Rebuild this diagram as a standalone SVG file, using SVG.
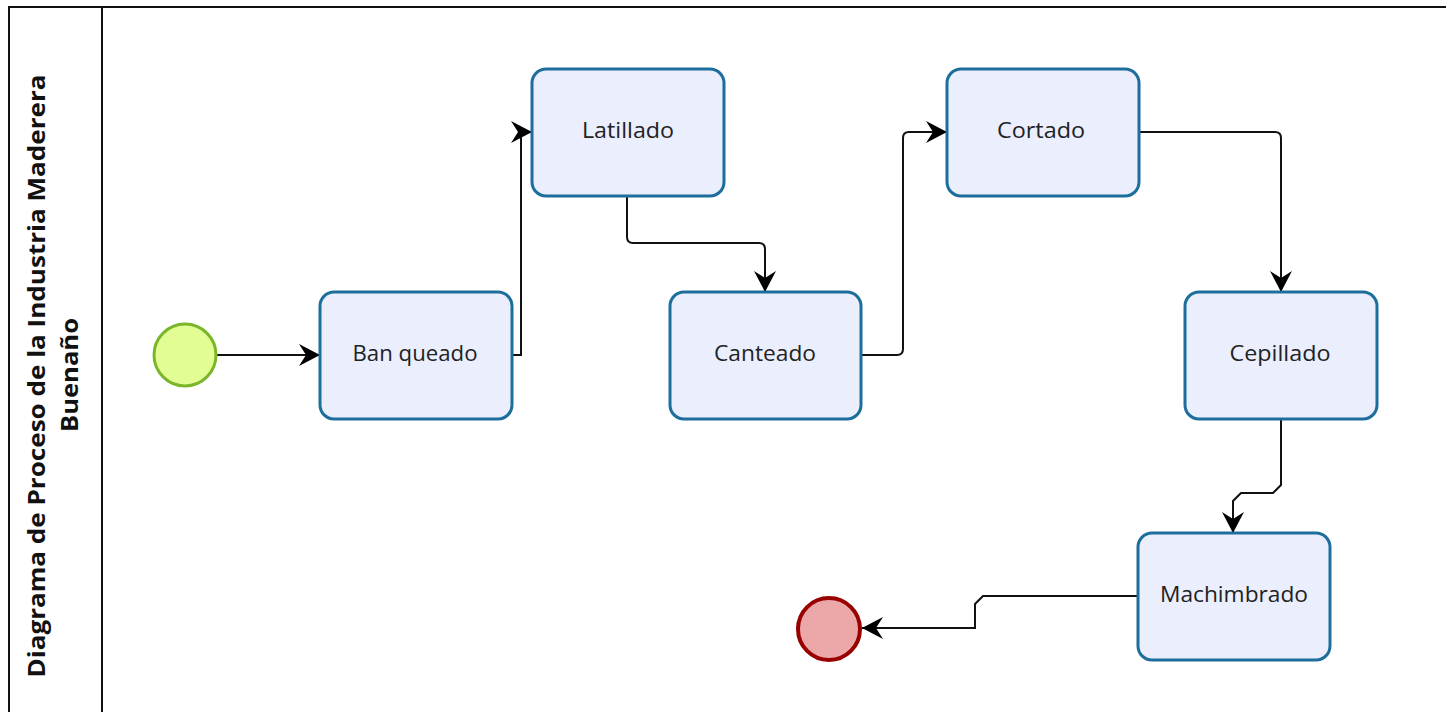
<svg xmlns="http://www.w3.org/2000/svg" width="1446" height="712" viewBox="0 0 1446 712">
<style>
.task{fill:#eaeefd;stroke:#1d6e9c;stroke-width:3}
.lbl{font-family:"Open Sans","Noto Sans",sans-serif;font-size:21px;fill:#222;text-anchor:middle;dominant-baseline:central}
.ttl{font-family:"Open Sans","Noto Sans",sans-serif;font-size:24px;font-weight:bold;fill:#111;text-anchor:middle;dominant-baseline:central}
.edge{fill:none;stroke:#111;stroke-width:2}
</style>
<defs>
<marker id="arr" markerUnits="userSpaceOnUse" markerWidth="24" markerHeight="22" refX="21" refY="11" orient="auto">
<path d="M0,0 L21,11 L0,22 L7,11 z" fill="#000"/>
</marker>
</defs>
<rect width="1446" height="712" fill="#fff"/>
<g id="pool">
<path d="M9,712 L9,7 L1446,7" fill="none" stroke="#111" stroke-width="2"/>
<line x1="102" y1="7" x2="102" y2="712" stroke="#111" stroke-width="2"/>
<text class="ttl" transform="translate(35,376) rotate(-90)" textLength="603" lengthAdjust="spacingAndGlyphs">Diagrama de Proceso de la Industria Maderera</text>
<text class="ttl" transform="translate(68,375) rotate(-90)" textLength="114" lengthAdjust="spacingAndGlyphs">Buenaño</text>
</g>
<g id="connectors">
<path class="edge" d="M217,355 L320,355" marker-end="url(#arr)"/>
<path class="edge" d="M512,355 L521,355 L521,132 L532,132" marker-end="url(#arr)"/>
<path class="edge" d="M627,196 L627,237 Q627,243 633,243 L759,243 Q765,243 765,249 L765,292" marker-end="url(#arr)"/>
<path class="edge" d="M861,355 L897,355 Q903,355 903,349 L903,138 Q903,132 909,132 L947,132" marker-end="url(#arr)"/>
<path class="edge" d="M1139,132 L1275,132 Q1281,132 1281,138 L1281,292" marker-end="url(#arr)"/>
<path class="edge" d="M1281,419 L1281,485 L1273,493 L1241,493 L1233,501 L1233,533" marker-end="url(#arr)"/>
<path class="edge" d="M1138,596 L983,596 L975,604 L975,628 L862,628" marker-end="url(#arr)"/>
</g>
<g id="start"><circle cx="185" cy="355" r="31" fill="#e3fd95" stroke="#7ab52a" stroke-width="3"/></g>
<g id="banqueado"><rect class="task" x="320" y="292" width="192" height="127" rx="14"/><text class="lbl" x="415" y="353" textLength="125" lengthAdjust="spacingAndGlyphs">Ban queado</text></g>
<g id="latillado"><rect class="task" x="532" y="69" width="192" height="127" rx="14"/><text class="lbl" x="628" y="130" textLength="92" lengthAdjust="spacingAndGlyphs">Latillado</text></g>
<g id="canteado"><rect class="task" x="670" y="292" width="191" height="127" rx="14"/><text class="lbl" x="765" y="353" textLength="102" lengthAdjust="spacingAndGlyphs">Canteado</text></g>
<g id="cortado"><rect class="task" x="947" y="69" width="192" height="127" rx="14"/><text class="lbl" x="1041" y="130" textLength="88" lengthAdjust="spacingAndGlyphs">Cortado</text></g>
<g id="cepillado"><rect class="task" x="1185" y="292" width="192" height="127" rx="14"/><text class="lbl" x="1280" y="353" textLength="101" lengthAdjust="spacingAndGlyphs">Cepillado</text></g>
<g id="machimbrado"><rect class="task" x="1138" y="533" width="192" height="127" rx="14"/><text class="lbl" x="1234" y="594" textLength="148" lengthAdjust="spacingAndGlyphs">Machimbrado</text></g>
<g id="end"><circle cx="829" cy="629" r="31" fill="#eca8a8" stroke="#990000" stroke-width="4"/></g>
</svg>
